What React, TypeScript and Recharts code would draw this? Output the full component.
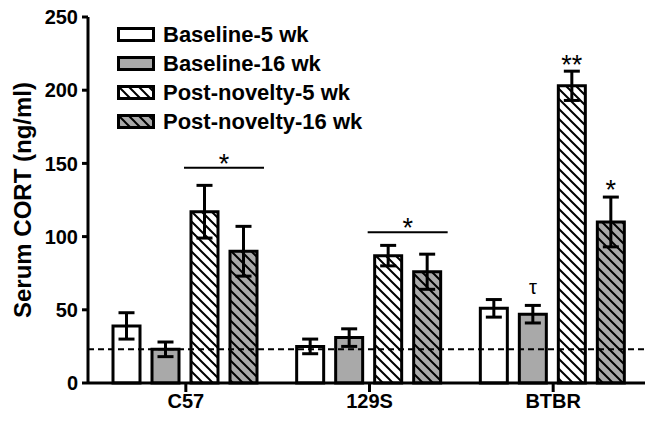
import { BarChart, Bar, XAxis, YAxis, ErrorBar, ReferenceLine, Legend, LabelList } from "recharts";

const strains = ["C57", "129S", "BTBR"];
const seriesNames = ["Baseline-5 wk", "Baseline-16 wk", "Post-novelty-5 wk", "Post-novelty-16 wk"];

const baseline5 = [39, 25, 51];
const baseline5Err = [9, 5, 6];
const baseline16 = [23, 31, 47];
const baseline16Err = [5, 6, 6];
const novelty5 = [117, 87, 203];
const novelty5Err = [18, 7, 10];
const novelty16 = [90, 76, 110];
const novelty16Err = [17, 12, 17];

const yTicks = [0, 50, 100, 150, 200, 250];
const controlLevel = 23;

// significance bracket over the two post-novelty bars of each strain
const bracketLevel = [147, 103, null];
const bracketMark = ["*", "*", ""];
const novelty5Marks = ["", "", "**"];
const novelty16Marks = ["", "", "*"];
const baseline16Marks = ["", "", "τ"];

const data = strains.map((s, i) => ({
  strain: s,
  b5: baseline5[i],
  b5Err: baseline5Err[i],
  b16: baseline16[i],
  b16Err: baseline16Err[i],
  p5: novelty5[i],
  p5Err: novelty5Err[i],
  p16: novelty16[i],
  p16Err: novelty16Err[i],
}));

const FONT = "'Liberation Sans', Arial, sans-serif";
const GRAY = "#a9a9a9";
const BAR_GAP = 12;

function barBox(props: any) {
  const vb = props.viewBox ?? props;
  return { x: Number(vb.x), y: Number(vb.y), width: Number(vb.width), height: Number(vb.height) };
}

function markAbove(values: number[], errs: number[], marks: string[], fontSize: number, dy: number) {
  return (props: any) => {
    const i = props.index;
    const mark = marks[i];
    if (!mark) return null;
    const { x, y, width, height } = barBox(props);
    const perUnit = height / values[i];
    const capY = y - errs[i] * perUnit;
    return (
      <text x={x + width / 2} y={capY + dy} textAnchor="middle" fontSize={fontSize} fontFamily={FONT} fill="#000">
        {mark}
      </text>
    );
  };
}

const bracket = (props: any) => {
  const i = props.index;
  const level = bracketLevel[i];
  if (level == null) return null;
  const { x, y, width, height } = barBox(props);
  const perUnit = height / novelty5[i];
  const ly = y + height - level * perUnit;
  const x1 = x - 7;
  const x2 = x + 2 * width + BAR_GAP + 7;
  return (
    <g>
      <line x1={x1} x2={x2} y1={ly} y2={ly} stroke="#000" strokeWidth={2} />
      <text x={(x1 + x2) / 2} y={ly + 5} textAnchor="middle" fontSize={27} fontFamily={FONT} fill="#000">
        {bracketMark[i]}
      </text>
    </g>
  );
};

const LegendBox = (props: any) => {
  const items = [...(props.payload || [])].sort(
    (a: any, b: any) => seriesNames.indexOf(a.value) - seriesNames.indexOf(b.value)
  );
  return (
    <div style={{ fontFamily: FONT, fontWeight: "bold", fontSize: 22, color: "#000" }}>
      {items.map((entry: any) => (
        <div key={entry.value} style={{ display: "flex", alignItems: "center", height: 29 }}>
          <svg width={44} height={20} style={{ display: "block" }}>
            <rect x={3.5} y={3.5} width={35} height={12} fill={entry.color} stroke="#000" strokeWidth={3} />
          </svg>
          <span style={{ marginLeft: 4, whiteSpace: "nowrap", lineHeight: "29px" }}>{entry.value}</span>
        </div>
      ))}
    </div>
  );
};

const tickStyle = { fontSize: 20, fontWeight: "bold", fill: "#000", fontFamily: FONT };

const YLabel = (props: any) => {
  const vb = props.viewBox || { x: 0, y: 17, height: 366 };
  const cy = vb.y + vb.height / 2;
  return (
    <text
      x={31}
      y={cy}
      transform={`rotate(-90, 31, ${cy})`}
      textAnchor="middle"
      fontSize={24}
      fontWeight="bold"
      fontFamily={FONT}
      fill="#000"
    >
      Serum CORT (ng/ml)
    </text>
  );
};

export default function App() {
  return (
    <div style={{ position: "absolute", left: 0, top: 0, width: 654, height: 423, background: "#fff" }}>
      <BarChart
        width={654}
        height={423}
        data={data}
        margin={{ top: 17, right: 9, bottom: 10, left: 0 }}
        barCategoryGap={19}
        barGap={BAR_GAP}
      >
        <defs>
          <pattern id="hatchWhite" patternUnits="userSpaceOnUse" width={10} height={10}>
            <rect width={10} height={10} fill="#fff" />
            <path d="M0,0 L10,10 M-3,7 L3,13 M7,-3 L13,3" stroke="#000" strokeWidth={2} />
          </pattern>
          <pattern id="hatchGray" patternUnits="userSpaceOnUse" width={10} height={10}>
            <rect width={10} height={10} fill={GRAY} />
            <path d="M0,0 L10,10 M-3,7 L3,13 M7,-3 L13,3" stroke="#000" strokeWidth={2} />
          </pattern>
        </defs>
        <XAxis
          dataKey="strain"
          height={30}
          padding={{ left: 6, right: 0 }}
          tick={tickStyle}
          tickSize={9}
          axisLine={{ stroke: "#000", strokeWidth: 3 }}
          tickLine={{ stroke: "#000", strokeWidth: 3 }}
        />
        <YAxis
          width={88}
          domain={[0, 250]}
          ticks={yTicks}
          tick={tickStyle}
          tickSize={6}
          tickMargin={4}
          axisLine={{ stroke: "#000", strokeWidth: 3 }}
          tickLine={{ stroke: "#000", strokeWidth: 3 }}
          label={<YLabel />}
        />
        <Legend
          layout="vertical"
          align="center"
          verticalAlign="middle"
          content={<LegendBox />}
          wrapperStyle={{ left: 115, top: 20, width: 300, height: 120 }}
        />
        <Bar dataKey="b5" name={seriesNames[0]} fill="#fff" stroke="#000" strokeWidth={3} isAnimationActive={false}>
          <ErrorBar dataKey="b5Err" width={8} stroke="#000" strokeWidth={3} />
        </Bar>
        <Bar dataKey="b16" name={seriesNames[1]} fill={GRAY} stroke="#000" strokeWidth={3} isAnimationActive={false}>
          <ErrorBar dataKey="b16Err" width={8} stroke="#000" strokeWidth={3} />
          <LabelList dataKey="b16" content={markAbove(baseline16, baseline16Err, baseline16Marks, 20, -11)} />
        </Bar>
        <Bar dataKey="p5" name={seriesNames[2]} fill="url(#hatchWhite)" stroke="#000" strokeWidth={3} isAnimationActive={false}>
          <ErrorBar dataKey="p5Err" width={8} stroke="#000" strokeWidth={3} />
          <LabelList dataKey="p5" content={markAbove(novelty5, novelty5Err, novelty5Marks, 27, 3)} />
          <LabelList dataKey="p5" content={bracket} />
        </Bar>
        <Bar dataKey="p16" name={seriesNames[3]} fill="url(#hatchGray)" stroke="#000" strokeWidth={3} isAnimationActive={false}>
          <ErrorBar dataKey="p16Err" width={8} stroke="#000" strokeWidth={3} />
          <LabelList dataKey="p16" content={markAbove(novelty16, novelty16Err, novelty16Marks, 27, 2)} />
        </Bar>
        <ReferenceLine y={controlLevel} stroke="#000" strokeWidth={2} strokeDasharray="6 4" />
      </BarChart>
    </div>
  );
}
